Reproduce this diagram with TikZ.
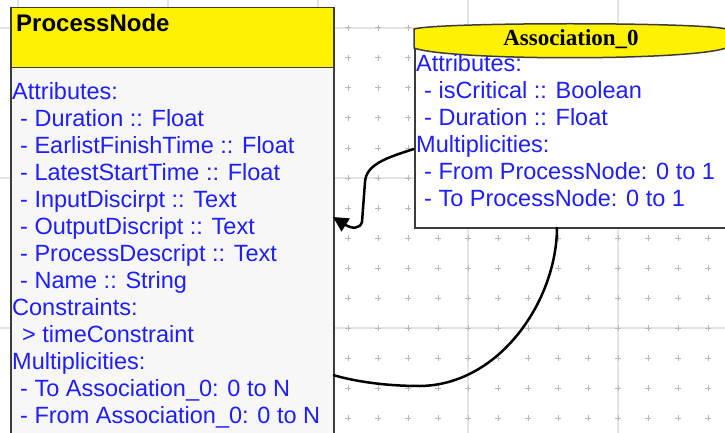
\documentclass[tikz,border=0pt]{standalone}
\usepackage{fontspec}
\setmainfont{Liberation Sans}
\newfontfamily\assocserif{Liberation Serif}
\usetikzlibrary{arrows.meta,positioning}
\definecolor{gridline}{RGB}{228,228,228}
\definecolor{gridcross}{RGB}{185,185,185}
\definecolor{boxline}{RGB}{60,60,60}
\definecolor{bodygrey}{RGB}{247,247,247}
\definecolor{attrblue}{RGB}{30,30,255}
\tikzstyle{none}=[inner sep=0pt]
\tikzstyle{head}=[draw=boxline,line width=1.5pt,fill=yellow]
\tikzstyle{body}=[draw=boxline,line width=1.5pt,inner sep=0pt]
\tikzstyle{attrs}=[inner sep=0pt,anchor=north west,align=left,text=attrblue,font=\fontsize{23.5}{27}\selectfont]
\tikzstyle{link}=[line width=2.5pt,black]
\newcommand{\ind}{\hspace*{8pt}}

\begin{document}
\begin{tikzpicture}[x=1pt,y=-1pt]
	\useasboundingbox (0,0) rectangle (725,433);
	% grid
	\foreach \gx in {18,168,...,618}
		\draw[gridline,line width=1.2pt] (\gx,0) -- (\gx,433);
	\foreach \gy in {28,178,328}
		\draw[gridline,line width=1.2pt] (0,\gy) -- (725,\gy);
	\foreach \gx in {18,48,...,708}
		\foreach \gy in {28,58,...,418}
			\draw[gridcross,line width=1pt] (\gx-3,\gy) -- (\gx+3,\gy) (\gx,\gy-3) -- (\gx,\gy+3);

	% ProcessNode
	\node [body,fill=bodygrey,minimum width=323pt,minimum height=380pt,anchor=north west] (procbody) at (10,67) {};
	\node [head,minimum width=323pt,minimum height=60pt,anchor=north west] (prochead) at (10,7) {};
	\node [style=none,anchor=base west,font=\fontsize{24}{27}\selectfont\bfseries] (proctitle) at (16,32) {ProcessNode};
	\node [attrs] (procattrs) at (12,82.2) {Attributes:\\
		\ind- Duration :: Float\\
		\ind- EarlistFinishTime :: Float\\
		\ind- LatestStartTime :: Float\\
		\ind- InputDiscirpt :: Text\\
		\ind- OutputDiscript :: Text\\
		\ind- ProcessDescript :: Text\\
		\ind- Name :: String\\
		Constraints:\\
		\hspace*{10pt}> timeConstraint\\
		Multiplicities:\\
		\ind- To Association\_0: 0 to N\\
		\ind- From Association\_0: 0 to N};

	% Association_0
	\node [body,fill=white,minimum width=312pt,minimum height=179pt,anchor=north west] (assocbody) at (414,48) {};
	\draw [head] (414,48) -- (414,29) .. controls (440,22) and (700,22) .. (726,29)
		-- (726,48) .. controls (690,61) and (450,61) .. cycle;
	\node [style=none,anchor=base,font=\fontsize{23}{27}\assocserif\bfseries] (assoctitle) at (571,46) {Association\_0};
	\node [attrs] (assocattrs) at (416,54.2) {Attributes:\\
		\ind- isCritical :: Boolean\\
		\ind- Duration :: Float\\
		Multiplicities:\\
		\ind- From ProcessNode: 0 to 1\\
		\ind- To ProcessNode: 0 to 1};

	% connectors
	\coordinate (assocout) at (414,149);
	\coordinate (procin) at (333,217);
	\coordinate (assocdown) at (557,227);
	\coordinate (procout) at (333,375);
	\draw [link,-{Triangle[length=15pt,width=15pt]}] (assocout) .. controls (385,158) and (366,165) .. (365,182)
		-- (362,222) .. controls (360,229) and (352,229) .. (procin);
	\draw [link] (assocdown) .. controls (557,300) and (500,385) .. (420,386)
		.. controls (380,386) and (350,380) .. (procout);
\end{tikzpicture}
\end{document}
